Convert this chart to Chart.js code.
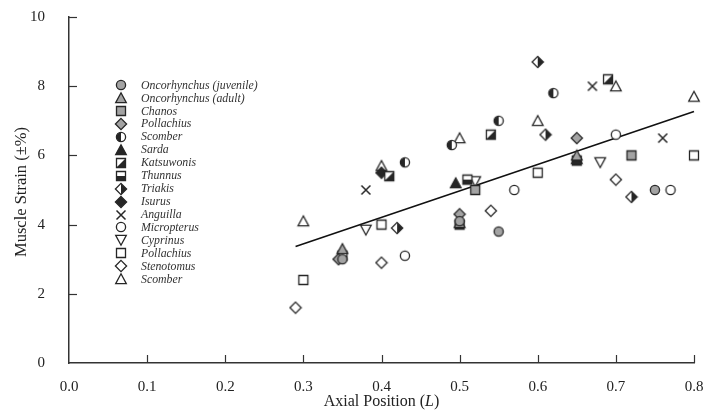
<!DOCTYPE html>
<html>
<head>
<meta charset="utf-8">
<script src="https://cdn.jsdelivr.net/npm/chart.js@4/dist/chart.umd.min.js"></script>
<style>
html,body{margin:0;padding:0;background:#fff;}
#wrap{width:705px;height:414px;position:relative;}
</style>
</head>
<body>
<div id="wrap"><canvas id="c" width="705" height="414"></canvas></div>
<script>
// ---- data ----
const speciesLabels = ["Oncorhynchus (juvenile)","Oncorhynchus (adult)","Chanos","Pollachius","Scomber","Sarda","Katsuwonis","Thunnus","Triakis","Isurus","Anguilla","Micropterus","Cyprinus","Pollachius","Stenotomus","Scomber"];
const oncorhynchusJuvenile = [[0.35,3.0],[0.50,4.1],[0.55,3.8],[0.75,5.0]];
const oncorhynchusAdult   = [[0.35,3.3],[0.50,4.05],[0.65,6.0]];
const chanos              = [[0.52,5.0],[0.72,6.0]];
const pollachiusGray      = [[0.345,3.0],[0.50,4.3],[0.65,6.5]];
const scomberHalf         = [[0.43,5.8],[0.49,6.3],[0.55,7.0],[0.62,7.8]];
const sarda               = [[0.495,5.2],[0.65,5.9]];
const katsuwonis          = [[0.41,5.4],[0.54,6.6],[0.69,8.2]];
const thunnus             = [[0.35,3.1],[0.50,4.0],[0.51,5.3],[0.65,5.85]];
const triakis             = [[0.42,3.9],[0.60,8.7],[0.61,6.6],[0.72,4.8]];
const isurus              = [[0.40,5.5]];
const anguilla            = [[0.38,5.0],[0.67,8.0],[0.76,6.5]];
const micropterus         = [[0.43,3.1],[0.57,5.0],[0.70,6.6],[0.77,5.0]];
const cyprinus            = [[0.38,3.85],[0.52,5.25],[0.68,5.8]];
const pollachiusOpen      = [[0.30,2.4],[0.40,4.0],[0.60,5.5],[0.80,6.0]];
const stenotomus          = [[0.29,1.6],[0.40,2.9],[0.54,4.4],[0.70,5.3]];
const scomberOpen         = [[0.30,4.1],[0.40,5.7],[0.50,6.5],[0.60,7.0],[0.70,8.0],[0.80,7.7]];
const regressionX = [0.29, 0.80];
const regressionY = [3.37, 7.27];
const xTicks = [0,0.1,0.2,0.3,0.4,0.5,0.6,0.7,0.8];
const yTicks = [0,2,4,6,8,10];

const seriesData = [oncorhynchusJuvenile,oncorhynchusAdult,chanos,pollachiusGray,scomberHalf,sarda,katsuwonis,thunnus,triakis,isurus,anguilla,micropterus,cyprinus,pollachiusOpen,stenotomus,scomberOpen];
const markerTypes = ["grayCircle","grayTri","graySquare","grayDiamond","halfCircle","blackTri","diagSquare","halfSquare","halfDiamond","blackDiamond","cross","openCircle","openTriDown","openSquare","openDiamond","openTri"];

// ---- marker images ----
const GRAY = '#a3a3a3', INK = '#262626';
function marker(type){
  const c = document.createElement('canvas');
  c.width = 14; c.height = 14;
  const g = c.getContext('2d');
  g.lineWidth = 1.3; g.strokeStyle = INK; g.lineJoin = 'miter';
  const cx = 7, cy = 7;
  const circle = () => { g.beginPath(); g.arc(cx,cy,4.6,0,Math.PI*2); };
  const tri = () => { g.beginPath(); g.moveTo(7,1.8); g.lineTo(12.3,11.6); g.lineTo(1.7,11.6); g.closePath(); };
  const triDown = () => { g.beginPath(); g.moveTo(1.7,2.4); g.lineTo(12.3,2.4); g.lineTo(7,12.2); g.closePath(); };
  const sq = () => { g.beginPath(); g.rect(2.5,2.5,9,9); };
  const dia = () => { g.beginPath(); g.moveTo(7,1.4); g.lineTo(12.6,7); g.lineTo(7,12.6); g.lineTo(1.4,7); g.closePath(); };
  const fs = (fill) => { g.fillStyle = fill; g.fill(); g.stroke(); };
  switch(type){
    case 'grayCircle': circle(); fs(GRAY); break;
    case 'grayTri': tri(); fs(GRAY); break;
    case 'graySquare': sq(); fs(GRAY); break;
    case 'grayDiamond': dia(); fs(GRAY); break;
    case 'openCircle': circle(); fs('#fff'); break;
    case 'openTri': tri(); fs('#fff'); break;
    case 'openTriDown': triDown(); fs('#fff'); break;
    case 'openSquare': sq(); fs('#fff'); break;
    case 'openDiamond': dia(); fs('#fff'); break;
    case 'blackTri': tri(); fs(INK); break;
    case 'blackDiamond': dia(); fs(INK); break;
    case 'halfCircle':
      circle(); g.fillStyle='#fff'; g.fill();
      g.beginPath(); g.arc(cx,cy,4.6,Math.PI/2,Math.PI*1.5); g.closePath(); g.fillStyle=INK; g.fill();
      circle(); g.stroke(); break;
    case 'diagSquare':
      sq(); g.fillStyle='#fff'; g.fill();
      g.beginPath(); g.moveTo(11.5,2.5); g.lineTo(11.5,11.5); g.lineTo(2.5,11.5); g.closePath(); g.fillStyle=INK; g.fill();
      sq(); g.stroke(); break;
    case 'halfSquare':
      sq(); g.fillStyle='#fff'; g.fill();
      g.fillStyle=INK; g.fillRect(2.5,7,9,4.5);
      sq(); g.stroke(); break;
    case 'halfDiamond':
      dia(); g.fillStyle='#fff'; g.fill();
      g.beginPath(); g.moveTo(7,1.4); g.lineTo(12.6,7); g.lineTo(7,12.6); g.closePath(); g.fillStyle=INK; g.fill();
      dia(); g.stroke(); break;
    case 'cross':
      g.lineWidth = 1.5;
      g.beginPath(); g.moveTo(2.5,2.5); g.lineTo(11.5,11.5); g.moveTo(11.5,2.5); g.lineTo(2.5,11.5); g.stroke(); break;
  }
  return c;
}
const markerImgs = markerTypes.map(marker);

const datasets = seriesData.map((pts,i) => ({
  type: 'scatter',
  label: speciesLabels[i],
  data: pts.map(p => ({x:p[0], y:p[1]})),
  pointStyle: markerImgs[i],
  pointRadius: 5,
  showLine: false,
  clip: false
}));
datasets.push({
  type: 'line',
  label: 'fit',
  data: regressionX.map((x,i)=>({x:x, y:regressionY[i]})),
  borderColor: '#111',
  borderWidth: 1.6,
  pointRadius: 0,
  fill: false,
  clip: false,
  order: 100
});

const SERIF = '"Liberation Serif", "DejaVu Serif", serif';

const decor = {
  id: 'decor',
  afterDraw(chart){
    const ctx = chart.ctx;
    const xs = chart.scales.x, ys = chart.scales.y;
    ctx.save();
    ctx.strokeStyle = '#333'; ctx.lineWidth = 1.2;
    // inward ticks
    xTicks.forEach(v => {
      if (v === 0) return;
      const px = Math.round(xs.getPixelForValue(v)) + 0.5;
      ctx.beginPath(); ctx.moveTo(px, ys.bottom); ctx.lineTo(px, ys.bottom - 8); ctx.stroke();
    });
    yTicks.forEach(v => {
      if (v === 0) return;
      const py = Math.round(ys.getPixelForValue(v)) + 0.5;
      ctx.beginPath(); ctx.moveTo(xs.left, py); ctx.lineTo(xs.left + 8, py); ctx.stroke();
    });
    // axis titles
    ctx.fillStyle = '#222';
    ctx.textBaseline = 'middle';
    const cx = (xs.left + xs.right) / 2;
    const ty = 402;
    const p1 = 'Axial Position (', p2 = 'L', p3 = ')';
    ctx.font = '16px ' + SERIF;
    const w1 = ctx.measureText(p1).width, w3 = ctx.measureText(p3).width;
    ctx.font = 'italic 16px ' + SERIF;
    const w2 = ctx.measureText(p2).width;
    let sx = cx - (w1 + w2 + w3) / 2;
    ctx.textAlign = 'left';
    ctx.font = '16px ' + SERIF; ctx.fillText(p1, sx, ty);
    ctx.font = 'italic 16px ' + SERIF; ctx.fillText(p2, sx + w1, ty);
    ctx.font = '16px ' + SERIF; ctx.fillText(p3, sx + w1 + w2, ty);
    ctx.save();
    ctx.translate(22, 192);
    ctx.rotate(-Math.PI / 2);
    ctx.textAlign = 'center';
    ctx.font = '16.5px ' + SERIF;
    ctx.fillText('Muscle Strain (\u00B1%)', 0, 0);
    ctx.restore();
    // legend
    const lx = 121, ly0 = 85, step = 12.95;
    ctx.font = 'italic 11.8px ' + SERIF;
    ctx.textAlign = 'left';
    ctx.fillStyle = '#333';
    for (let i = 0; i < speciesLabels.length; i++) {
      const y = ly0 + i * step;
      ctx.drawImage(markerImgs[i], lx - 7, Math.round(y) - 7);
      ctx.fillText(speciesLabels[i], 141, y + 0.5);
    }
    ctx.restore();
  }
};

new Chart(document.getElementById('c'), {
  data: { datasets },
  options: {
    responsive: false,
    animation: false,
    devicePixelRatio: 1,
    layout: { padding: { left: 0, right: 11, top: 17, bottom: 0 } },
    plugins: { legend: { display: false }, tooltip: { enabled: false } },
    scales: {
      x: {
        type: 'linear', min: 0, max: 0.8,
        afterFit(s){ s.height = 51; s.paddingLeft = 0; s.paddingRight = 0; },
        afterBuildTicks(s){ s.ticks = xTicks.map(v => ({value: v})); },
        grid: { display: false },
        border: { display: true, color: '#333', width: 1.5 },
        ticks: { padding: 7, color: '#222', font: { family: SERIF, size: 15 }, callback: v => v.toFixed(1), maxRotation: 0 }
      },
      y: {
        type: 'linear', min: 0, max: 10,
        afterFit(s){ s.width = 69; s.paddingTop = 0; s.paddingBottom = 0; },
        afterBuildTicks(s){ s.ticks = yTicks.map(v => ({value: v})); },
        grid: { display: false },
        border: { display: true, color: '#333', width: 1.5 },
        ticks: { padding: 16, color: '#222', font: { family: SERIF, size: 15 } }
      }
    }
  },
  plugins: [decor]
});
</script>
</body>
</html>
